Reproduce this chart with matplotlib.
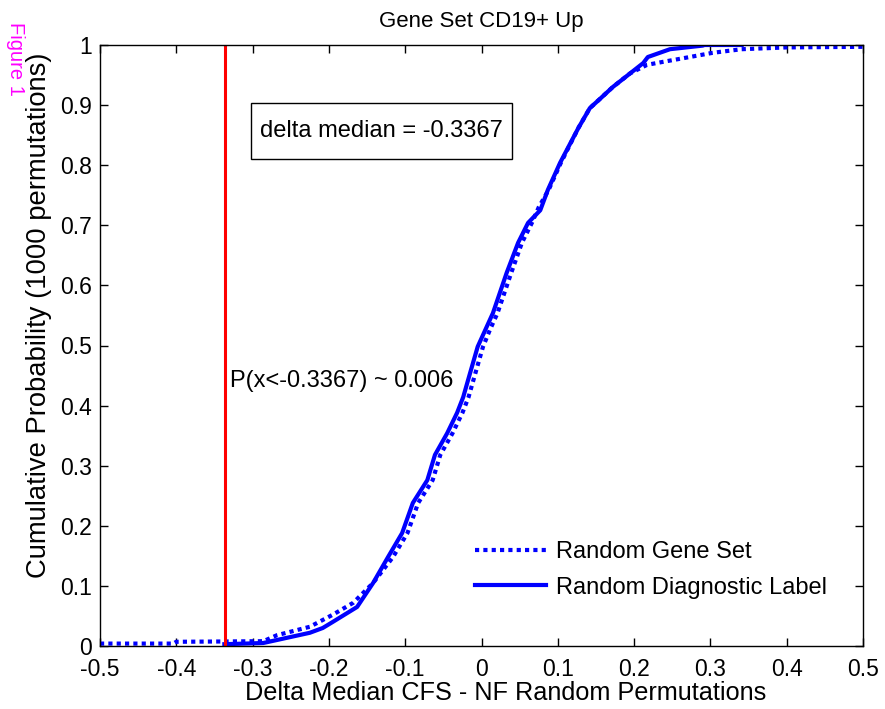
import matplotlib
matplotlib.use("Agg")
import matplotlib.pyplot as plt
from matplotlib.patches import Rectangle
import numpy as np

plt.rcParams['font.family'] = ['Liberation Sans', 'DejaVu Sans']

# Random Gene Set (dotted)
gene_x = [-0.5, -0.404, -0.40, -0.286, -0.268, -0.225, -0.195, -0.168, -0.142, -0.116,
          -0.097, -0.083, -0.064, -0.054, -0.038, -0.025, -0.017, -0.008, 0.002, 0.011,
          0.021, 0.039, 0.053, 0.066, 0.075, 0.088, 0.104, 0.127, 0.142, 0.155, 0.172, 0.195,
          0.217, 0.238, 0.260, 0.303, 0.341, 0.4, 0.5]
gene_y = [0.004, 0.004, 0.007, 0.008, 0.018, 0.032, 0.052, 0.072, 0.105, 0.148,
          0.188, 0.238, 0.276, 0.318, 0.354, 0.388, 0.414, 0.454, 0.498, 0.526,
          0.554, 0.621, 0.671, 0.704, 0.73, 0.759, 0.804, 0.862, 0.895, 0.91, 0.93, 0.953,
          0.967, 0.972, 0.977, 0.987, 0.993, 0.996, 0.997]

# Random Diagnostic Label (solid)
diag_x = [-0.337, -0.31, -0.286, -0.268, -0.225, -0.208, -0.195, -0.163, -0.142, -0.1225,
          -0.104, -0.090, -0.071, -0.061, -0.045, -0.032, -0.024, -0.015, -0.005, 0.005,
          0.015, 0.033, 0.048, 0.061, 0.077, 0.087, 0.103, 0.127, 0.142, 0.155, 0.172, 0.195,
          0.212, 0.218, 0.247, 0.29, 0.292, 0.341]
diag_y = [0.003, 0.004, 0.005, 0.01, 0.022, 0.03, 0.040, 0.065, 0.105, 0.148,
          0.188, 0.238, 0.276, 0.318, 0.354, 0.388, 0.414, 0.454, 0.498, 0.526,
          0.554, 0.621, 0.671, 0.704, 0.725, 0.759, 0.804, 0.862, 0.895, 0.91, 0.93, 0.953,
          0.970, 0.98, 0.993, 0.999, 1.0, 1.0]

delta_median = -0.3367
p_value = 0.006

xticks = [-0.5, -0.4, -0.3, -0.2, -0.1, 0, 0.1, 0.2, 0.3, 0.4, 0.5]
yticks = [0, 0.1, 0.2, 0.3, 0.4, 0.5, 0.6, 0.7, 0.8, 0.9, 1]
xticklabels = ['-0.5', '-0.4', '-0.3', '-0.2', '-0.1', '0', '0.1', '0.2', '0.3', '0.4', '0.5']
yticklabels = ['0', '0.1', '0.2', '0.3', '0.4', '0.5', '0.6', '0.7', '0.8', '0.9', '1']

fig = plt.figure(figsize=(8.85, 7.09), dpi=100)
ax = fig.add_axes([100/885, 63/709, 763/885, 601/709])

ax.plot(gene_x, gene_y, color='#0000ff', lw=3, linestyle=(0, (1, 1)), label='Random Gene Set')
ax.plot(diag_x, diag_y, color='#0000ff', lw=3, label='Random Diagnostic Label')
ax.axvline(delta_median, color='#ff0000', lw=2.2)

ax.set_xlim(-0.5, 0.5)
ax.set_ylim(0, 1)
ax.set_xticks(xticks)
ax.set_yticks(yticks)
ax.set_xticklabels(xticklabels)
ax.set_yticklabels(yticklabels, va='center_baseline')
ax.tick_params(direction='in', length=6, width=1, labelsize=16.5, top=True, right=True)
ax.tick_params(axis='x', pad=9)
ax.tick_params(axis='y', pad=6)
for s in ax.spines.values():
    s.set_linewidth(1.0)

ax.set_title('Gene Set CD19+ Up', fontsize=16, pad=13)
ax.set_xlabel('Delta Median CFS - NF Random Permutations', fontsize=18.2, labelpad=3)
ax.xaxis.set_label_coords(0.532, -0.058)
ax.set_ylabel('Cumulative Probability (1000 permutations)', fontsize=19.7, labelpad=6)
ax.yaxis.set_label_coords(-0.063, 0.55)

ax.add_patch(Rectangle((0.198, 0.810), 0.342, 0.0935, transform=ax.transAxes,
                       facecolor='white', edgecolor='black', lw=1, zorder=3))
ax.text(0.369, 0.857, f'delta median = {delta_median}', transform=ax.transAxes,
        fontsize=17, ha='center', va='center', zorder=4)
ax.text(-0.3296, 0.441, f'P(x<{delta_median}) ~ {p_value}', fontsize=17, ha='left', va='center')

leg = ax.legend(loc='center left', bbox_to_anchor=(0.4915, 0.127), frameon=False, fontsize=17,
                handlelength=3.0, handletextpad=0.42, labelspacing=0.58,
                borderpad=0, borderaxespad=0)

fig.text(15/885, 1 - 22/709, 'Figure 1', color='#ff00ff', fontsize=14.5, rotation=-90,
         ha='center', va='top')

fig.savefig('out.png', dpi=100)
